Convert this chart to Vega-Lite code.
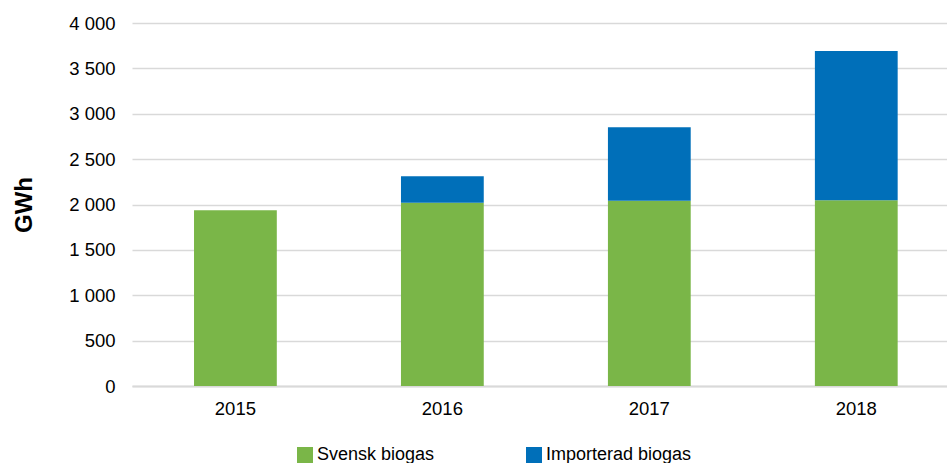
{
  "$schema": "https://vega.github.io/schema/vega-lite/v6.json",
  "autosize": {"type": "none"},
  "width": 815,
  "height": 363,
  "padding": {"left": 132, "top": 23, "right": 0, "bottom": 77},
  "background": "white",
  "config": {
    "font": "Liberation Sans",
    "view": {"stroke": null}
  },
  "data": {
    "values": [
      {"year": "2015", "serie": "Svensk biogas", "gwh": 1938},
      {"year": "2016", "serie": "Svensk biogas", "gwh": 2018},
      {"year": "2016", "serie": "Importerad biogas", "gwh": 294},
      {"year": "2017", "serie": "Svensk biogas", "gwh": 2040},
      {"year": "2017", "serie": "Importerad biogas", "gwh": 812},
      {"year": "2018", "serie": "Svensk biogas", "gwh": 2048},
      {"year": "2018", "serie": "Importerad biogas", "gwh": 1644}
    ]
  },
  "mark": {"type": "bar"},
  "encoding": {
    "x": {
      "field": "year",
      "type": "nominal",
      "scale": {"paddingInner": 0.6, "paddingOuter": 0.269, "align": 0.557},
      "axis": {
        "title": null,
        "labelAngle": 0,
        "labelFontSize": 18.5,
        "labelColor": "#000000",
        "labelPadding": 13,
        "ticks": false,
        "domain": true,
        "domainColor": "#d9d9d9",
        "domainWidth": 2
      }
    },
    "y": {
      "field": "gwh",
      "type": "quantitative",
      "stack": "zero",
      "scale": {"domain": [0, 4000]},
      "axis": {
        "title": "GWh",
        "titleFontSize": 24,
        "titleFontWeight": "bold",
        "titleColor": "#000000",
        "titlePadding": 32,
        "values": [0, 500, 1000, 1500, 2000, 2500, 3000, 3500, 4000],
        "labelExpr": "replace(format(datum.value, ','), ',', ' ')",
        "labelFontSize": 18.5,
        "labelColor": "#000000",
        "labelPadding": 17,
        "ticks": false,
        "domain": false,
        "grid": true,
        "gridColor": "#d9d9d9",
        "gridWidth": 1.5
      }
    },
    "color": {
      "field": "serie",
      "type": "nominal",
      "scale": {
        "domain": ["Svensk biogas", "Importerad biogas"],
        "range": ["#7AB648", "#006FB9"]
      },
      "legend": {
        "title": null,
        "orient": "none",
        "legendX": 164,
        "legendY": 423,
        "direction": "horizontal",
        "symbolType": "square",
        "symbolSize": 256,
        "symbolStrokeWidth": 0,
        "labelFontSize": 18,
        "labelColor": "#000000",
        "labelOffset": 3,
        "columnPadding": 90
      }
    },
    "order": {"field": "serie", "sort": "descending"}
  }
}
